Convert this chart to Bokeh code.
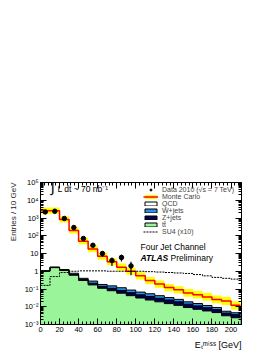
import math
from bokeh.plotting import figure
from bokeh.models import (LogAxis, LinearAxis, FixedTicker, SingleIntervalTicker,
                          CustomJSTickFormatter, Label, Legend, LegendItem, Range1d,
                          ColumnDataSource, Title)
from bokeh.embed import file_html
from bokeh.resources import INLINE

# ---------------- data ----------------
bin_edges = [0, 10, 20, 30, 40, 50, 60, 70, 80, 90, 100, 110, 120, 130, 140,
             150, 160, 170, 180, 190, 200, 210]
mc_total = [2600, 2600, 830, 200, 49, 18, 7.0, 3.4, 1.7, 1.0, 0.55, 0.30, 0.19,
            0.12, 0.09, 0.06, 0.048, 0.036, 0.026, 0.021, 0.012]
mc_band_factor = [1.5, 1.5, 1.5, 1.5, 1.5, 1.55, 1.55, 1.55, 1.6, 1.6, 1.6, 1.6,
                  1.6, 1.6, 1.6, 1.65, 1.65, 1.65, 1.65, 1.7, 1.7]
ttbar = [1.0, 1.6, 1.1, 0.6, 0.3, 0.17, 0.11, 0.08, 0.058, 0.042, 0.031, 0.024,
         0.019, 0.015, 0.012, 0.009, 0.0072, 0.0058, 0.0047, 0.0031, 0.0024]
zjets = [0.03, 0.05, 0.05, 0.05, 0.04, 0.04, 0.03, 0.03, 0.025, 0.02, 0.016,
         0.014, 0.011, 0.009, 0.007, 0.005, 0.004, 0.003, 0.0022, 0.0013, 0.0012]
wjets = [0.05, 0.08, 0.1, 0.12, 0.06, 0.07, 0.04, 0.04, 0.035, 0.025, 0.02,
         0.016, 0.012, 0.009, 0.007, 0.005, 0.004, 0.003, 0.0022, 0.0012, 0.001]
su4_x10 = [0.16, 0.5, 0.85, 1.0, 1.05, 1.05, 1.05, 1.0, 1.0, 0.98, 1.0, 0.95,
           0.9, 0.85, 0.8, 0.75, 0.65, 0.55, 0.45, 0.4, 0.36]
data_x = [5, 15, 25, 35, 45, 55, 65, 75, 85, 95]
data_y = [2200, 2400, 940, 290, 70, 29, 10, 4, 6, 2]
data_err = [math.sqrt(v) for v in data_y]
y_ticks = [1e-3, 1e-2, 1e-1, 1, 10, 1e2, 1e3, 1e4, 1e5]
x_ticks_step = 20

FONT = "Liberation Sans"


def step_xy(vals):
    xs, ys = [], []
    for i, v in enumerate(vals):
        xs += [bin_edges[i], bin_edges[i + 1]]
        ys += [v, v]
    return xs, ys


cum1 = ttbar
cum2 = [a + b for a, b in zip(ttbar, zjets)]
cum3 = [a + b + c for a, b, c in zip(ttbar, zjets, wjets)]
FLOOR = 1e-6

p = figure(width=274, height=355, y_axis_type="log",
           x_range=Range1d(bin_edges[0], 211), y_range=Range1d(1e-3, 1e5),
           output_backend="svg", toolbar_location=None,
           min_border_left=40, min_border_right=33, min_border_top=182,
           min_border_bottom=31)
p.xgrid.visible = False
p.ygrid.visible = False
p.outline_line_color = "black"
p.outline_line_width = 1
p.background_fill_color = "white"
p.border_fill_color = "white"

C_W = "#2f8fea"
C_Z = "#00004f"
C_TT = "#9af59a"
C_Y = "#ffff00"
C_R = "#ff0000"

# stacked backgrounds (W on top of Z on top of ttbar)
for cum, col in [(cum3, C_W), (cum2, C_Z), (cum1, C_TT)]:
    xs, ys = step_xy(cum)
    p.varea(x=xs, y1=[FLOOR] * len(xs), y2=ys, fill_color=col)
for cum in [cum3, cum2, cum1]:
    xs, ys = step_xy(cum)
    p.line(xs, ys, line_color="black", line_width=1)

# MC band and line
up = [m * f for m, f in zip(mc_total, mc_band_factor)]
dn = [m / f for m, f in zip(mc_total, mc_band_factor)]
xs, yu = step_xy(up)
_, yd = step_xy(dn)
r_band = p.varea(x=xs, y1=yd, y2=yu, fill_color=C_Y)
xs, ym = step_xy(mc_total)
r_mc = p.line(xs, ym, line_color=C_R, line_width=1.5)

# SU4
xs, ys = step_xy(su4_x10)
r_su4 = p.line(xs, ys, line_color="black", line_width=1, line_dash="2 1")

# data
p.segment(x0=data_x, y0=[max(y - e, 1e-4) for y, e in zip(data_y, data_err)],
          x1=data_x, y1=[y + e for y, e in zip(data_y, data_err)],
          line_color="black", line_width=1.2)
r_data = p.scatter(data_x, data_y, size=4.5, color="black")

# ---------------- axes ----------------
minor_y = [m * 10.0 ** k for k in range(-3, 5) for m in range(2, 10)]
fmt = CustomJSTickFormatter(code="""
const e = Math.round(Math.log10(tick));
if (e === 0) return "1";
if (e === 1) return "10";
const m = {"-":"\u207b","0":"\u2070","1":"\u00b9","2":"\u00b2","3":"\u00b3","4":"\u2074","5":"\u2075"};
return "10" + String(e).split("").map(c => m[c]).join("");
""")


def style(ax):
    ax.major_tick_in = 6
    ax.major_tick_out = 0
    ax.minor_tick_in = 3
    ax.minor_tick_out = 0
    ax.axis_line_color = "black"
    ax.major_tick_line_color = "black"
    ax.minor_tick_line_color = "black"
    ax.major_label_text_font = FONT
    ax.major_label_text_color = "black"
    ax.major_label_text_font_size = "7.5px"
    ax.major_label_standoff = 2


yax = p.yaxis[0]
yax.ticker = FixedTicker(ticks=y_ticks, minor_ticks=minor_y)
yax.formatter = fmt
style(yax)
xax = p.xaxis[0]
xax.ticker = SingleIntervalTicker(interval=x_ticks_step, num_minor_ticks=5)
style(xax)

blank = CustomJSTickFormatter(code="return '';")
rax = LogAxis(ticker=FixedTicker(ticks=y_ticks, minor_ticks=minor_y), formatter=blank)
style(rax)
p.add_layout(rax, "right")
tax = LinearAxis(ticker=SingleIntervalTicker(interval=x_ticks_step, num_minor_ticks=5),
                 formatter=blank)
style(tax)
p.add_layout(tax, "above")

# axis titles as side-panel titles (aligned to the far end like ROOT)
p.add_layout(Title(text="Entries / 10 GeV", align="right", text_font=FONT,
                   text_font_size="8px", text_font_style="normal",
                   text_color="#222222", standoff=8, offset=0,
                   text_line_height=2.6, vertical_align="bottom"), "left")
p.add_layout(Title(text="E\u209c\u1d50\u2071\u02e2\u02e2 [GeV]", align="right",
                   text_font=FONT, text_font_size="9px", text_font_style="normal",
                   text_color="black", standoff=7, offset=0), "below")

# ---------------- legend (proxies hold real data but are hidden) ----------------
def proxy_quad(top, color):
    src = ColumnDataSource(dict(left=bin_edges[:-1], right=bin_edges[1:],
                                top=top, bottom=[FLOOR] * len(top)))
    r = p.quad(left="left", right="right", top="top", bottom="bottom", source=src,
               fill_color=color, line_color="black", line_width=1)
    r.visible = False
    return r


l_qcd = proxy_quad(mc_total, "white")
l_w = proxy_quad(wjets, C_W)
l_z = proxy_quad(zjets, C_Z)
l_tt = proxy_quad(ttbar, C_TT)

legend = Legend(items=[
    LegendItem(label="Data 2010 (\u221as = 7 TeV)", renderers=[r_data]),
    LegendItem(label="Monte Carlo", renderers=[r_band, r_mc]),
    LegendItem(label="QCD", renderers=[l_qcd]),
    LegendItem(label="W+jets", renderers=[l_w]),
    LegendItem(label="Z+jets", renderers=[l_z]),
    LegendItem(label="tt\u0304", renderers=[l_tt]),
    LegendItem(label="SU4 (x10)", renderers=[r_su4]),
], location=(103, 89), padding=0, margin=0, spacing=0, glyph_width=15,
    glyph_height=5, label_height=7, label_standoff=4,
    label_text_font=FONT, label_text_font_size="7px",
    border_line_color=None, background_fill_alpha=0, click_policy="none")
p.add_layout(legend, "center")

# ---------------- texts inside the frame (screen units from frame bottom-left) ----------------
def lab(text, x, y, size, align="left", baseline="middle", style="normal"):
    p.add_layout(Label(x=x, y=y, x_units="screen", y_units="screen", text=text,
                       text_font=FONT, text_font_size=size, text_align=align,
                       text_baseline=baseline, text_font_style=style,
                       text_color="black"))


lab("\u222b", 10, 138, "15px")
lab("L dt ~ 70 nb\u207b\u00b9", 17, 136, "8.5px")
lab("Four Jet Channel", 100, 78, "8.5px")
lab("ATLAS", 100, 67, "8.5px", style="bold italic")
lab("Preliminary", 130, 67, "8.5px")

open("out.html", "w").write(file_html(p, INLINE))
